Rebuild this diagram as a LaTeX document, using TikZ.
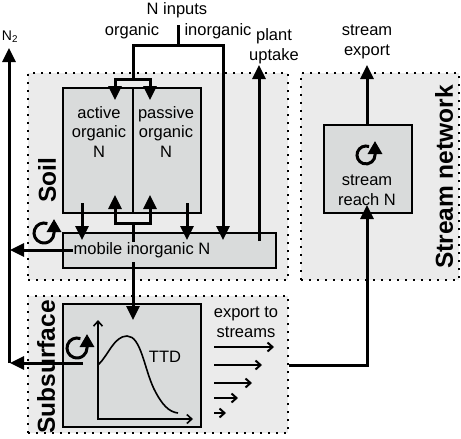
\documentclass[tikz,border=0pt]{standalone}
\usepackage{fontspec}
\setmainfont{Liberation Sans}
\usetikzlibrary{arrows.meta}

\definecolor{zonegray}{RGB}{235,235,235}
\definecolor{poolgray}{RGB}{217,219,219}

\tikzset{
	zone/.style={draw, fill=zonegray, line width=2.2pt, dash pattern=on 2.2pt off 5.8pt, inner sep=0pt},
	pool/.style={draw, fill=poolgray, line width=2pt, inner sep=0pt},
	txt/.style={font=\fontsize{16.5}{19.5}\selectfont, align=center, inner sep=0pt},
	zonelabel/.style={font=\fontsize{24.5}{28}\selectfont\bfseries, rotate=90, inner sep=0pt},
	line/.style={line width=3pt},
	flow/.style={line width=3pt, -{Triangle[width=13pt,length=14pt]}},
	outflow/.style={line width=2pt, -{Straight Barb[width=9pt,length=5pt]}},
	axis/.style={line width=1.6pt, {Straight Barb[width=9pt,length=5pt]}-{Straight Barb[width=9pt,length=5pt]}},
	turnover/.style={line width=3pt, -{Triangle[width=14pt,length=13pt]}},
}

\begin{document}
\begin{tikzpicture}[x=1pt, y=1pt]
		\useasboundingbox ( 0, 0 ) rectangle ( 461, -439 );

		% compartments
		\node [zone, minimum width=260pt, minimum height=207pt] (soil) at ( 158, -176.5 ) {};
		\node [zone, minimum width=158pt, minimum height=207pt] (network) at ( 380, -176.5 ) {};
		\node [zone, minimum width=260pt, minimum height=137pt] (subsurface) at ( 158, -364.5 ) {};
		\node [zonelabel] (soillbl) at ( 47, -180 ) {Soil};
		\node [zonelabel] (sublbl) at ( 46, -367 ) {Subsurface};
		\node [zonelabel] (netlbl) at ( 444, -177 ) {Stream network};

		% pools
		\node [pool, minimum width=70pt, minimum height=125pt] (active) at ( 98, -150.5 ) {};
		\node [pool, minimum width=68pt, minimum height=125pt] (passive) at ( 167, -150.5 ) {};
		\node [pool, minimum width=213pt, minimum height=35pt] (mobile) at ( 169.5, -250.5 ) {};
		\node [pool, minimum width=88pt, minimum height=88pt] (reach) at ( 368, -169 ) {};
		\node [pool, minimum width=138pt, minimum height=123pt] (ttd) at ( 132, -365.5 ) {};

		\node [txt] (activetxt) at ( 99, -132 ) {active\\organic\\N};
		\node [txt] (passivetxt) at ( 166, -132 ) {passive\\organic\\N};
		\node [txt] (mobiletxt) at ( 142, -250 ) {mobile inorganic N};
		\node [txt] (reachtxt) at ( 367, -190 ) {stream\\reach N};
		\node [txt] (ttdtxt) at ( 165, -357 ) {TTD};

		% inputs
		\node [txt] (ninputs) at ( 177, -10 ) {N inputs};
		\node [txt] (orglbl) at ( 132, -31 ) {organic};
		\node [txt] (inorglbl) at ( 218, -31 ) {inorganic};
		\coordinate (nin) at ( 178, -25 );
		\coordinate (nsplit) at ( 178, -45 );
		\coordinate (orgfork) at ( 133, -79 );
		\coordinate (activein) at ( 115, -100 );
		\coordinate (passivein) at ( 150, -100 );
		\coordinate (inorgin) at ( 223, -240 );
		\draw [line] (nin) -- (nsplit);
		\draw [line] (nsplit) -| (orgfork);
		\draw [flow] (nsplit) -| (inorgin);
		\draw [flow] (orgfork) -| (activein);
		\draw [flow] (orgfork) -| (passivein);

		% organic <-> mobile
		\coordinate (activeout) at ( 82, -203 );
		\coordinate (passiveout) at ( 187, -203 );
		\draw [flow] (activeout) -- (activeout |- inorgin);
		\draw [flow] (passiveout) -- (passiveout |- inorgin);
		\coordinate (mobileup) at ( 133, -242 );
		\coordinate (mobilefork) at ( 133, -223 );
		\coordinate (activeback) at ( 115, -195 );
		\coordinate (passiveback) at ( 150, -195 );
		\draw [line] (mobileup) -- (mobilefork);
		\draw [flow] (mobilefork) -| (activeback);
		\draw [flow] (mobilefork) -| (passiveback);

		% plant uptake
		\node [txt] (uptakelbl) at ( 274, -46 ) {plant\\uptake};
		\coordinate (uptakeout) at ( 259, -241 );
		\coordinate (uptaketop) at ( 259, -65 );
		\draw [flow] (uptakeout) -- (uptaketop);

		% N2 losses
		\node [font=\fontsize{14}{16}\selectfont, inner sep=0pt] (n2lbl) at ( 10, -37 ) {N\textsubscript{2}};
		\coordinate (n2bot) at ( 9, -363 );
		\coordinate (n2top) at ( 9, -48 );
		\coordinate (ttdout) at ( 83, -363 );
		\draw [flow] (n2bot) -- (n2top);
		\draw [flow] (mobiletxt.west) -- (mobiletxt.west -| 10, 0);
		\draw [flow] (ttdout) -- (10, -363);

		% leaching
		\coordinate (mobiledown) at ( 133, -262 );
		\coordinate (ttdin) at ( 133, -320 );
		\draw [flow] (mobiledown) -- (ttdin);

		% travel time distribution
		\draw [axis] ( 98, -320 ) |- ( 193, -419 );
		\draw [line width=1.6pt] ( 98, -365 ) .. controls ( 108, -356 ) and ( 114, -336 ) .. ( 127, -336 )
			.. controls ( 141, -336 ) and ( 144, -368 ) .. ( 154, -389 )
			.. controls ( 162, -405 ) and ( 169, -412 ) .. ( 178, -413 );

		% export to streams
		\node [txt] (exportlbl) at ( 246, -322 ) {export to\\streams};
		\draw [outflow] ( 214, -347 ) -- ( 274, -347 );
		\draw [outflow] ( 214, -365 ) -- ( 262, -365 );
		\draw [outflow] ( 214, -383 ) -- ( 252, -383 );
		\draw [outflow] ( 214, -398 ) -- ( 238, -398 );
		\draw [outflow] ( 214, -413 ) -- ( 226, -413 );
		\coordinate (subout) at ( subsurface.east |- 0, -365 );
		\coordinate (reachin) at ( 367, -205 );
		\draw [flow] (subout) -| (reachin);

		% stream export
		\node [txt] (streamlbl) at ( 367, -42 ) {stream\\export};
		\coordinate (exporttop) at ( 367, -65 );
		\draw [flow] (reach.north -| exporttop) -- (exporttop);

		% turnover loops
		\draw [turnover] ( [shift={(70:10)}] 44, -233 ) arc [start angle=70, end angle=360, radius=10] -- ++( 0, 14 );
		\draw [turnover] ( [shift={(70:10)}] 77, -348 ) arc [start angle=70, end angle=360, radius=10] -- ++( 0, 14 );
		\draw [turnover] ( [shift={(70:9)}] 366, -155 ) arc [start angle=70, end angle=360, radius=9] -- ++( 0, 14 );
	\end{tikzpicture}
\end{document}
